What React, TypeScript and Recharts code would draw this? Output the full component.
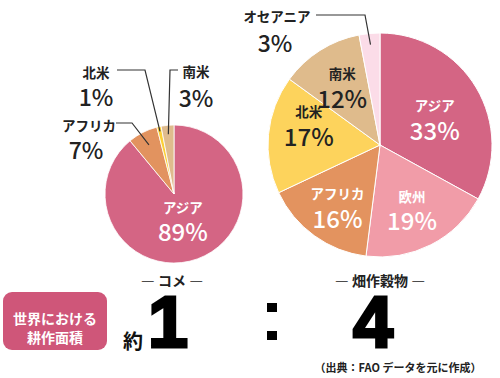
import { Cell, Pie, PieChart } from "recharts";

// Rice (left pie)
const riceRegions = ["アジア", "アフリカ", "北米", "南米"];
const riceShares = [89, 7, 1, 3];
const riceColors = ["#d46584", "#e2935f", "#fcd036", "#dfbb8d"];

// Upland crops (right pie)
const fieldRegions = ["アジア", "欧州", "アフリカ", "北米", "南米", "オセアニア"];
const fieldShares = [33, 19, 16, 17, 12, 3];
const fieldColors = ["#d46584", "#f19ca8", "#e3935f", "#fdd35c", "#dfbb8c", "#fbdce8"];

const riceTitle = "コメ";
const fieldTitle = "畑作穀物";
const ratioLeft = "1";
const ratioRight = "4";
const sourceNote = "（出典：FAO データを元に作成）";

const FONT = "'Noto Sans CJK JP', 'Noto Sans', sans-serif";
const RADIAN = Math.PI / 180;

type Callout = {
  tip: number;
  elbow: [number, number];
  start: [number, number];
  text: [number, number];
  pct: [number, number];
};

// label placement, relative to the pie centre
const riceCallouts: Record<string, Callout> = {
  北米: { tip: 0.93, elbow: [-29, -124], start: [-57, -124], text: [-78, -122], pct: [-78, -98] },
  南米: { tip: 0.87, elbow: [-4, -124], start: [4, -124], text: [22, -123], pct: [22, -97] },
  アフリカ: { tip: 0.8, elbow: [-42, -71], start: [-58, -71], text: [-85, -69], pct: [-88, -45] },
};
const fieldCallouts: Record<string, Callout> = {
  オセアニア: { tip: 0.9, elbow: [-15, -130], start: [-64, -130], text: [-103, -129], pct: [-105, -103] },
};
const fieldNudges: Record<string, [number, number]> = {
  アジア: [-6, 8],
  北米: [-1, -15],
  アフリカ: [-1, 3],
};
const darkText = new Set(["北米", "南米"]);

function makeLabel(
  callouts: Record<string, Callout>,
  insideRatio: number,
  nudges: Record<string, [number, number]>,
) {
  return (props: any) => {
    const { cx, cy, midAngle, outerRadius, name, value } = props;
    const cos = Math.cos(-midAngle * RADIAN);
    const sin = Math.sin(-midAngle * RADIAN);
    const callout = callouts[name];
    if (callout) {
      const tx = cx + outerRadius * callout.tip * cos;
      const ty = cy + outerRadius * callout.tip * sin;
      return (
        <g>
          <polyline
            points={`${cx + callout.start[0]},${cy + callout.start[1]} ${cx + callout.elbow[0]},${cy + callout.elbow[1]} ${tx},${ty}`}
            fill="none"
            stroke="#333"
            strokeWidth={1.2}
          />
          <text
            x={cx + callout.text[0]}
            y={cy + callout.text[1]}
            textAnchor="middle"
            dominantBaseline="central"
            fontFamily={FONT}
            fontSize={13.5}
            fontWeight={700}
            fill="#222"
          >
            {name}
          </text>
          <text
            x={cx + callout.pct[0]}
            y={cy + callout.pct[1]}
            textAnchor="middle"
            dominantBaseline="central"
            fontFamily={FONT}
            fontSize={23}
            fontWeight={500}
            fill="#222"
          >
            {`${value}%`}
          </text>
        </g>
      );
    }
    const nudge = nudges[name] ?? [0, 0];
    const x = cx + outerRadius * insideRatio * cos + nudge[0];
    const y = cy + outerRadius * insideRatio * sin + nudge[1];
    const color = darkText.has(name) ? "#222" : "#fff";
    return (
      <g>
        <text
          x={x}
          y={y - 12}
          textAnchor="middle"
          dominantBaseline="central"
          fontFamily={FONT}
          fontSize={13.5}
          fontWeight={700}
          fill={color}
        >
          {name}
        </text>
        <text
          x={x}
          y={y + 12}
          textAnchor="middle"
          dominantBaseline="central"
          fontFamily={FONT}
          fontSize={24}
          fontWeight={500}
          fill={color}
        >
          {`${value}%`}
        </text>
      </g>
    );
  };
}

export default function App() {
  const riceData = riceRegions.map((name, i) => ({ name, value: riceShares[i] }));
  const fieldData = fieldRegions.map((name, i) => ({ name, value: fieldShares[i] }));

  return (
    <div
      style={{
        position: "absolute",
        left: 0,
        top: 0,
        width: 500,
        height: 378,
        background: "#fff",
        fontFamily: FONT,
      }}
    >
      <PieChart width={500} height={378} margin={{ top: 0, right: 0, bottom: 0, left: 0 }}>
        <Pie
          data={riceData}
          dataKey="value"
          nameKey="name"
          cx={174}
          cy={194}
          outerRadius={69}
          startAngle={90}
          endAngle={-270}
          stroke="#fff"
          strokeWidth={0.8}
          label={makeLabel(riceCallouts, 0.38, {})}
          labelLine={false}
          isAnimationActive={false}
        >
          {riceData.map((d, i) => (
            <Cell key={d.name} fill={riceColors[i]} />
          ))}
        </Pie>
        <Pie
          data={fieldData}
          dataKey="value"
          nameKey="name"
          cx={380}
          cy={145}
          outerRadius={112}
          startAngle={90}
          endAngle={-270}
          stroke="#fff"
          strokeWidth={1}
          label={makeLabel(fieldCallouts, 0.63, fieldNudges)}
          labelLine={false}
          isAnimationActive={false}
        >
          {fieldData.map((d, i) => (
            <Cell key={d.name} fill={fieldColors[i]} />
          ))}
        </Pie>
      </PieChart>

      <svg
        width={500}
        height={378}
        style={{ position: "absolute", left: 0, top: 0, pointerEvents: "none" }}
      >
        <text x={172} y={280} textAnchor="middle" dominantBaseline="central" fontSize={14} fontWeight={700} fill="#222">
          {`― ${riceTitle} ―`}
        </text>
        <text x={380} y={280} textAnchor="middle" dominantBaseline="central" fontSize={14} fontWeight={700} fill="#222">
          {`― ${fieldTitle} ―`}
        </text>

        <rect x={3} y={292} width={104} height={58} rx={9} fill="#cf5679" />
        <text x={55} y={318} textAnchor="middle" dominantBaseline="central" fontSize={14} fontWeight={700} fill="#fff">
          世界における
        </text>
        <text x={55} y={337} textAnchor="middle" dominantBaseline="central" fontSize={14} fontWeight={700} fill="#fff">
          耕作面積
        </text>

        <text x={133} y={340} textAnchor="middle" dominantBaseline="central" fontSize={20} fontWeight={700} fill="#111">
          約
        </text>
        <text
          x={168}
          y={347}
          textAnchor="middle"
          fontFamily="'Liberation Sans', Arial, sans-serif"
          fontSize={72}
          fontWeight={700}
          fill="#000"
          stroke="#000"
          strokeWidth={3}
        >
          {ratioLeft}
        </text>
        <rect x={267} y={303} width={10} height={9} fill="#000" />
        <rect x={267} y={331} width={10} height={9} fill="#000" />
        <text
          x={373}
          y={347}
          textAnchor="middle"
          fontFamily="'Liberation Sans', Arial, sans-serif"
          fontSize={72}
          fontWeight={700}
          fill="#000"
          stroke="#000"
          strokeWidth={3}
        >
          {ratioRight}
        </text>

        <text x={398} y={367} textAnchor="middle" dominantBaseline="central" fontSize={11} fontWeight={700} fill="#222">
          {sourceNote}
        </text>
      </svg>
    </div>
  );
}
